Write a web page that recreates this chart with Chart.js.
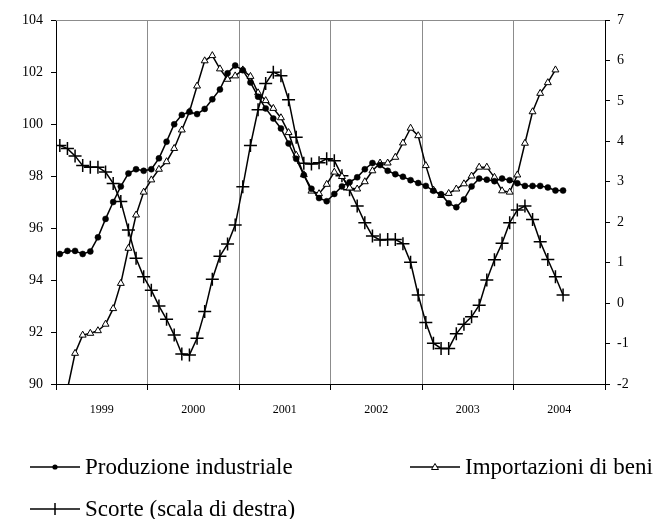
<!DOCTYPE html>
<html><head><meta charset="utf-8">
<script src="https://cdn.jsdelivr.net/npm/chart.js@4.4.1/dist/chart.umd.min.js"></script>
<style>
html,body{margin:0;padding:0;background:#fff;}
#wrap{position:relative;width:656px;height:519px;overflow:hidden;}
#c{position:absolute;left:0;top:0;}
.leg{position:absolute;font-family:"Liberation Serif","Times New Roman",serif;font-size:23px;color:#000;display:flex;align-items:center;white-space:nowrap;line-height:23px;}
.leg svg{margin-right:5px;}
</style></head><body>
<div id="wrap">
<canvas id="c" width="656" height="519"></canvas>
<div class="leg" style="left:30px;top:455px"><svg width="50" height="14"><line x1="0" y1="7" x2="50" y2="7" stroke="#000" stroke-width="1.5"/><circle cx="25" cy="7" r="2.6" fill="#000"/></svg>Produzione industriale</div>
<div class="leg" style="left:410px;top:455px"><svg width="50" height="14"><line x1="0" y1="7" x2="50" y2="7" stroke="#000" stroke-width="1.5"/><polygon points="25,3.5 28.5,9.5 21.5,9.5" fill="#fff" stroke="#000" stroke-width="1"/></svg>Importazioni di beni</div>
<div class="leg" style="left:30px;top:497px"><svg width="50" height="14"><line x1="0" y1="7" x2="50" y2="7" stroke="#000" stroke-width="1.5"/><line x1="25" y1="1" x2="25" y2="13" stroke="#000" stroke-width="1.5"/></svg>Scorte (scala di destra)</div>
</div>
<script>
// Monthly series, Jan 1999 onward
const years = ['1999', '2000', '2001', '2002', '2003', '2004'];
const leftTicks = [90, 92, 94, 96, 98, 100, 102, 104];
const rightTicks = [-2, -1, 0, 1, 2, 3, 4, 5, 6, 7];

const produzione = [
  95.0, 95.12, 95.12, 95.0, 95.1, 95.64, 96.35, 97.0, 97.6, 98.1, 98.26, 98.2,
  98.26, 98.68, 99.32, 99.99, 100.35, 100.47, 100.38, 100.58, 100.95, 101.33, 101.95, 102.25,
  102.07, 101.6, 101.05, 100.6, 100.21, 99.83, 99.25, 98.66, 98.04, 97.51, 97.15, 97.03,
  97.31, 97.6, 97.76, 97.95, 98.26, 98.5, 98.42, 98.2, 98.07, 97.97, 97.84, 97.73,
  97.62, 97.43, 97.3, 96.95, 96.8, 97.1, 97.6, 97.9, 97.86, 97.8, 97.9, 97.84,
  97.72, 97.62, 97.62, 97.62, 97.56, 97.44, 97.44
];
const importazioni = [
  88.8, 89.8, 91.18, 91.88, 91.95, 92.05, 92.3, 92.9, 93.87, 95.22, 96.5, 97.38,
  97.85, 98.26, 98.55, 99.06, 99.77, 100.47, 101.46, 102.43, 102.63, 102.12, 101.72, 101.85,
  102.08, 101.83, 101.2, 100.9, 100.6, 100.24, 99.67, 98.8, 98.05, 97.42, 97.32, 97.68,
  98.15, 97.98, 97.54, 97.5, 97.78, 98.2, 98.5, 98.5, 98.72, 99.27, 99.84, 99.55,
  98.4, 97.46, 97.25, 97.33, 97.5, 97.7, 98.0, 98.34, 98.34, 97.95, 97.43, 97.38,
  98.04, 99.26, 100.47, 101.18, 101.59, 102.08
];
const scorte = [
  3.9, 3.82, 3.64, 3.4, 3.36, 3.36, 3.24, 2.96, 2.51, 1.81, 1.11, 0.65,
  0.32, -0.07, -0.4, -0.79, -1.26, -1.28, -0.87, -0.21, 0.59, 1.16, 1.46, 1.93,
  2.88, 3.9, 4.78, 5.43, 5.71, 5.62, 5.03, 4.1, 3.46, 3.44, 3.47, 3.57,
  3.52, 3.15, 2.8, 2.4, 1.99, 1.66, 1.56, 1.57, 1.57, 1.47, 1.01, 0.2,
  -0.48, -0.99, -1.12, -1.12, -0.76, -0.52, -0.34, -0.05, 0.57, 1.07, 1.48, 1.99,
  2.3, 2.4, 2.07, 1.52, 1.08, 0.65, 0.2
];

const toXY = arr => arr.map((v, i) => ({x: i, y: v}));
const nMonths = years.length * 12;
const xTickVals = [];
for (let k = 0; k <= years.length * 2; k++) xTickVals.push(-0.5 + k * 6);
const isBoundary = v => Math.abs(((v + 0.5) % 12)) < 1e-6;
const serif = '"Liberation Serif","Times New Roman",serif';

const topBorder = {
  id: 'topBorder',
  afterDraw(chart) {
    const {ctx, chartArea: a} = chart;
    ctx.save();
    ctx.strokeStyle = '#8c8c8c';
    ctx.lineWidth = 1;
    ctx.beginPath();
    ctx.moveTo(a.left, a.top + 0.5);
    ctx.lineTo(a.right, a.top + 0.5);
    ctx.stroke();
    ctx.restore();
  }
};

new Chart(document.getElementById('c'), {
  type: 'line',
  data: {
    datasets: [
      {label: 'Produzione industriale', data: toXY(produzione), yAxisID: 'y',
       borderColor: '#000', borderWidth: 1.5, pointStyle: 'circle', pointRadius: 3,
       pointBackgroundColor: '#000', pointBorderColor: '#000', pointBorderWidth: 0.5, tension: 0},
      {label: 'Importazioni di beni', data: toXY(importazioni), yAxisID: 'y',
       borderColor: '#000', borderWidth: 1.5, pointStyle: 'triangle', pointRadius: 4,
       pointBackgroundColor: '#fff', pointBorderColor: '#000', pointBorderWidth: 1, tension: 0},
      {label: 'Scorte (scala di destra)', data: toXY(scorte), yAxisID: 'y1',
       borderColor: '#000', borderWidth: 1.5, pointStyle: 'cross', pointRadius: 6.5,
       pointBorderColor: '#000', pointBorderWidth: 1.5, tension: 0}
    ]
  },
  options: {
    responsive: false,
    animation: false,
    layout: {padding: {top: 20, left: 0, right: 0, bottom: 0}},
    plugins: {legend: {display: false}, tooltip: {enabled: false}},
    scales: {
      x: {
        type: 'linear', position: 'bottom', min: -0.5, max: nMonths - 0.5,
        afterBuildTicks: s => { s.ticks = xTickVals.map(v => ({value: v})); },
        afterFit: s => { s.height = 135; },
        ticks: {
          autoSkip: false, maxRotation: 0, minRotation: 0, padding: 13,
          color: '#000', font: {family: serif, size: 12},
          callback: v => isBoundary(v) ? '' : years[Math.round((v - 5.5) / 12)]
        },
        grid: {
          drawOnChartArea: true, drawTicks: true, tickLength: 6, lineWidth: 1,
          color: c => (c.tick && isBoundary(c.tick.value) && c.tick.value > 0 && c.tick.value < nMonths - 1) ? '#8c8c8c' : 'rgba(0,0,0,0)',
          tickColor: c => (c.tick && isBoundary(c.tick.value)) ? '#000' : 'rgba(0,0,0,0)'
        },
        border: {display: true, color: '#000', width: 1}
      },
      y: {
        position: 'left', min: 90, max: 104,
        afterBuildTicks: s => { s.ticks = leftTicks.map(v => ({value: v})); },
        afterFit: s => { s.width = 56; },
        ticks: {padding: 8, color: '#000', font: {family: serif, size: 14}},
        grid: {drawOnChartArea: false, drawTicks: true, tickLength: 5, color: '#000', tickColor: '#000'},
        border: {display: true, color: '#000', width: 1}
      },
      y1: {
        position: 'right', min: -2, max: 7,
        afterBuildTicks: s => { s.ticks = rightTicks.map(v => ({value: v})); },
        afterFit: s => { s.width = 51; },
        ticks: {padding: 7, color: '#000', font: {family: serif, size: 14}},
        grid: {drawOnChartArea: false, drawTicks: true, tickLength: 5, color: '#000', tickColor: '#000'},
        border: {display: true, color: '#000', width: 1}
      }
    }
  },
  plugins: [topBorder]
});
</script>
</body></html>
